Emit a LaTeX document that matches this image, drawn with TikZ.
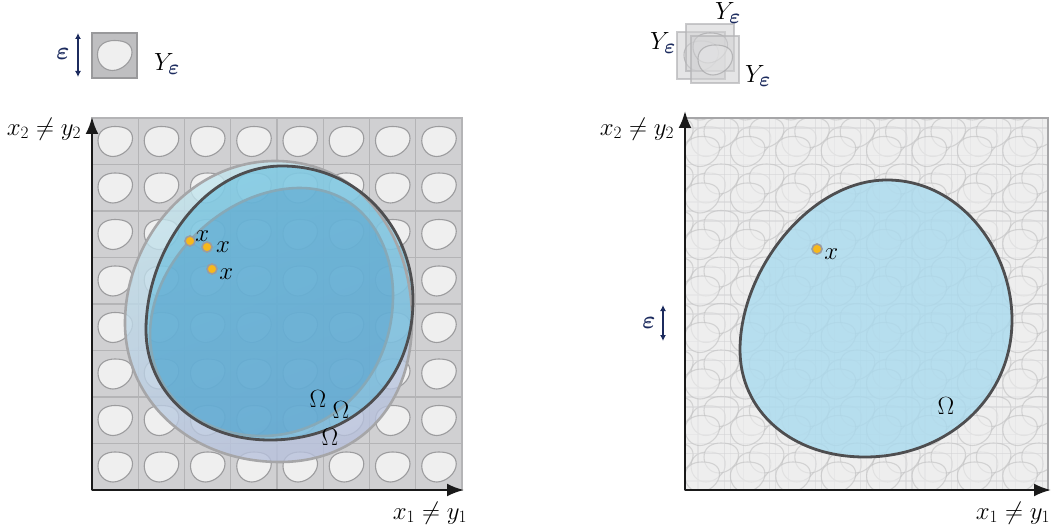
\documentclass[tikz,border=0pt]{standalone}
\usepackage{xcolor}
\usepackage{tikz}
\usepackage{amsmath}
\usetikzlibrary{arrows.meta,positioning,calc}
\definecolor{cellgray}{HTML}{D0D0D2}
\definecolor{cellline}{HTML}{B4B4B6}
\definecolor{blobfill}{HTML}{EFEFEF}
\definecolor{blobline}{HTML}{9C9C9E}
\definecolor{palegray}{HTML}{EEEEEE}
\definecolor{paleline}{HTML}{D4D4D6}
\definecolor{epsnavy}{HTML}{1C2B5E}
\definecolor{omegaline}{HTML}{4E4E50}
\definecolor{ringgray}{HTML}{A6A6A8}
\definecolor{ringblue}{HTML}{86A9B8}
\definecolor{lightcyan}{HTML}{C3E6EE}
\definecolor{lavender}{HTML}{B7C0DC}
\definecolor{omegablue}{HTML}{4FB7DC}
\definecolor{deepblue}{HTML}{3C8FC3}
\definecolor{skyblue}{HTML}{A9DAEE}
\definecolor{dotorange}{HTML}{F7B81C}
\tikzstyle{lbl} = [inner sep=0pt, font=\fontsize{24}{28}\selectfont]
\tikzstyle{epslbl} = [inner sep=0pt, font=\fontsize{30}{34}\selectfont]
\tikzstyle{biglbl} = [inner sep=0pt, font=\fontsize{30}{34}\selectfont]
\tikzstyle{axisarrow} = [-{Latex[length=17pt,width=13pt]}, line width=2.4pt, black!90]
\tikzstyle{epsarrow} = [{Latex[length=6pt,width=6pt]}-{Latex[length=6pt,width=6pt]}, line width=1.6pt, epsnavy]
\tikzstyle{pointdot} = [circle, fill=dotorange, draw=blobline, line width=1.6pt, minimum size=10pt, inner sep=0pt]
\tikzset{blob/.pic={
  \path[pic actions, line width=1.1pt] (0,-15) .. controls (10.5,-15) and (17.5,-11.5) .. (17.5,-3)
    .. controls (17.5,6) and (7.5,15) .. (-2,15) .. controls (-10.5,15) and (-17,8) .. (-17,-1)
    .. controls (-17,-10.5) and (-9.5,-15) .. (0,-15) -- cycle;}}
\newcommand{\eps}{\textcolor{epsnavy}{\boldsymbol{\varepsilon}}}
% domain outlines
\newcommand{\ringpath}{(275,161) .. controls (360,161) and (412,235) .. (412,320)
  .. controls (412,410) and (355,462) .. (280,462) .. controls (190,462) and (125,400) .. (125,323)
  .. controls (125,240) and (190,161) .. (275,161) -- cycle}
\newcommand{\midpath}{(300,188) .. controls (360,188) and (393,240) .. (393,295)
  .. controls (393,380) and (330,436) .. (262,436) .. controls (195,436) and (150,390) .. (150,335)
  .. controls (150,260) and (225,188) .. (300,188) -- cycle}
\newcommand{\omegapath}{(282,166) .. controls (360,166) and (413,230) .. (413,300)
  .. controls (413,385) and (350,440) .. (270,440) .. controls (195,440) and (146,390) .. (146,330)
  .. controls (146,250) and (205,166) .. (282,166) -- cycle}
\newcommand{\omegapathr}{(887,180) .. controls (960,180) and (1012,250) .. (1012,320)
  .. controls (1012,400) and (945,457) .. (865,457) .. controls (790,457) and (740,410) .. (740,350)
  .. controls (740,270) and (810,180) .. (887,180) -- cycle}

\begin{document}
\begin{tikzpicture}[x=1pt,y=-1pt]
\useasboundingbox (0,0) rectangle (1051,529);

% left panel: periodic cells
\fill[cellgray] (92,118) rectangle (462,490);
\foreach \k in {1,...,7} {
  \draw[cellline, line width=1.3pt] ({92+46.25*\k},118) -- ({92+46.25*\k},490);
  \draw[cellline, line width=1.3pt] (92,{118+46.5*\k}) -- (462,{118+46.5*\k});
}
\draw[cellline, line width=1.3pt] (92,118) rectangle (462,490);
\foreach \i in {0,...,7}
  \foreach \j in {0,...,7}
    \pic[fill=blobfill, draw=blobline] at ({115+46.25*\i},{141.5+46.5*\j}) {blob};

% left panel: domains
\shade[top color=lightcyan, bottom color=lavender, shading angle=20, fill opacity=0.8] \ringpath;
\fill[omegablue, fill opacity=0.5] \omegapath;
\fill[deepblue, fill opacity=0.35] \midpath;
\draw[ringgray, line width=2.6pt] \ringpath;
\draw[ringblue, line width=2.6pt] \midpath;
\draw[omegaline, line width=2.8pt] \omegapath;

\node[pointdot] (pa) at (190,241) {};
\node[pointdot] (pb) at (207,247) {};
\node[pointdot] (pc) at (212,269) {};
\node[lbl, above right=-5pt and 1pt of pa] (xa) {$x$};
\node[lbl, right=3pt of pb] (xb) {$x$};
\node[lbl, below right=-5pt and 3pt of pc] (xc) {$x$};
\node[lbl] (oa) at (318,399) {$\Omega$};
\node[lbl] (ob) at (341,410) {$\Omega$};
\node[lbl] (oc) at (330,437) {$\Omega$};

% left panel: axes
\coordinate (lo) at (92,490);
\coordinate (ly) at (92,117);
\coordinate (lx) at (464,490);
\draw[axisarrow] (lo) -- (ly);
\draw[axisarrow] (lo) -- (lx);
\node[lbl] (lylab) at (44,129) {$x_2\neq y_2$};
\node[lbl] (lxlab) at (430,513) {$x_1\neq y_1$};

% left panel: unit cell
\fill[cellgray!92!black] (92,33) rectangle (137,78);
\draw[cellline!85!black, line width=1.3pt] (92,33) rectangle (137,78);
\pic[fill=blobfill, draw=blobline] at (114.5,55.5) {blob};
\coordinate (ea) at (78,33);
\coordinate (eb) at (78,77);
\draw[epsarrow] (ea) -- (eb);
\node[epslbl] (elab) at (63,54) {$\eps$};
\node[biglbl] (ylab) at (167,64) {$Y_{\eps}$};

% right panel: shifted cells
\fill[palegray] (685,118) rectangle (1048,490);
\begin{scope}
\clip (685,118) rectangle (1048,490);
\foreach \dx/\dy in {0/0, 13/-9, -6/10} {
  \begin{scope}[shift={(\dx,\dy)}, opacity=0.55]
  \foreach \k in {-1,...,9} {
    \draw[paleline, line width=1.3pt] ({685+45.4*\k},100) -- ({685+45.4*\k},510);
    \draw[paleline, line width=1.3pt] (665,{118+46.5*\k}) -- (1070,{118+46.5*\k});
  }
  \foreach \i in {-1,...,8}
    \foreach \j in {-1,...,8}
      \pic[fill=blobfill, draw=paleline!88!black] at ({708+45.4*\i},{141.5+46.5*\j}) {blob};
  \end{scope}
}
\end{scope}
\draw[ringgray, line width=1.3pt] (685,118) rectangle (1048,490);

% right panel: domain
\fill[skyblue, fill opacity=0.8] \omegapathr;
\draw[omegaline, line width=2.8pt] \omegapathr;
\node[pointdot] (pd) at (817,249) {};
\node[lbl, below right=-5pt and 3pt of pd] (xd) {$x$};
\node[lbl] (od) at (946,406) {$\Omega$};

% right panel: axes
\coordinate (ro) at (685,490);
\coordinate (ry) at (685,111);
\coordinate (rx) at (1051,490);
\draw[axisarrow] (ro) -- (ry);
\draw[axisarrow] (ro) -- (rx);
\node[lbl] (rylab) at (637,129) {$x_2\neq y_2$};
\node[lbl] (rxlab) at (1013,513) {$x_1\neq y_1$};
\coordinate (ec) at (663,305);
\coordinate (ed) at (663,341);
\draw[epsarrow] (ec) -- (ed);
\node[epslbl] (elabr) at (649,323) {$\eps$};

% right panel: overlapping cells
\foreach \sx/\sy in {677/32, 686/24, 691/36} {
  \fill[cellgray, fill opacity=0.55] (\sx,\sy) rectangle ++(48,47);
  \draw[cellline, opacity=0.7, line width=1.2pt] (\sx,\sy) rectangle ++(48,47);
  \pic[fill=blobfill, fill opacity=0.35, draw=blobline, draw opacity=0.6] at ($(\sx,\sy)+(24,24)$) {blob};
}
\node[biglbl] (ya) at (728,13) {$Y_{\eps}$};
\node[biglbl] (yb) at (663,43) {$Y_{\eps}$};
\node[biglbl] (yc) at (758,76) {$Y_{\eps}$};
\end{tikzpicture}
\end{document}
